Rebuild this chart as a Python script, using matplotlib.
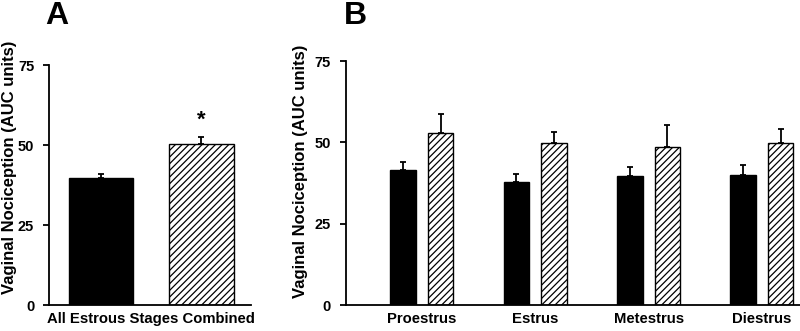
import numpy as np
import matplotlib.pyplot as plt

plt.rcParams['font.family'] = ['Liberation Sans', 'DejaVu Sans']
plt.rcParams['font.weight'] = 'bold'
plt.rcParams['hatch.linewidth'] = 0.9

# panel A
combined_label = ['All Estrous Stages Combined']
combined_black = [39.7]
combined_black_err = [1.3]
combined_hatch = [50.3]
combined_hatch_err = [2.3]

# panel B
stages = ['Proestrus', 'Estrus', 'Metestrus', 'Diestrus']
stage_black = [41.4, 37.9, 39.7, 40.1]
stage_black_err = [2.7, 2.5, 2.7, 2.8]
stage_hatch = [53.0, 49.9, 48.7, 49.7]
stage_hatch_err = [5.8, 3.2, 6.7, 4.3]

yticks = [0, 25, 50, 75]
ylabel = 'Vaginal Nociception (AUC units)'

fig = plt.figure(figsize=(8, 3.31), dpi=100)
axA = fig.add_axes([0.061, 0.0785, 0.2525, 0.725])
axB = fig.add_axes([0.432, 0.0785, 0.568, 0.737])


def style_axis(ax):
    ax.spines['top'].set_visible(False)
    ax.spines['right'].set_visible(False)
    ax.spines['left'].set_linewidth(1.3)
    ax.spines['bottom'].set_linewidth(1.3)
    ax.set_ylim(0, 75)
    ax.set_yticks(yticks)
    ax.tick_params(axis='y', length=4, width=1.3, labelsize=10.5, pad=6.5)
    ax.tick_params(axis='x', length=0, labelsize=10.7, pad=5)
    for lbl in ax.get_yticklabels() + ax.get_xticklabels():
        lbl.set_fontweight('bold')


err_kw = dict(elinewidth=1.3, capsize=2.5, capthick=1.3, ecolor='black')

# panel A
axA.bar([0], combined_black, width=0.64, color='black', edgecolor='black',
        yerr=[[0], combined_black_err], error_kw=err_kw, zorder=2)
axA.bar([1], combined_hatch, width=0.64, color='white', edgecolor='black',
        hatch='/////', linewidth=1.0,
        yerr=[[0], combined_hatch_err], error_kw=err_kw, zorder=2)
axA.set_xlim(-0.517, 1.49)
axA.set_xticks([0.5])
axA.set_xticklabels(combined_label)
axA.text(1, combined_hatch[0] + combined_hatch_err[0] + 5.2, '*',
         ha='center', va='center', fontsize=16, fontweight='bold')
style_axis(axA)
axA.set_ylabel(ylabel, fontsize=12, fontweight='bold')
axA.yaxis.set_label_coords(-0.158, 0.575)
fig.text(0.057, 0.952, 'A', fontsize=23, fontweight='bold', ha='left', va='center')

# panel B
x = np.arange(len(stages))
axB.bar(x - 0.166, stage_black, width=0.225, color='black', edgecolor='black',
        yerr=[np.zeros(len(stages)), stage_black_err], error_kw=err_kw, zorder=2)
axB.bar(x + 0.166, stage_hatch, width=0.225, color='white', edgecolor='black',
        hatch='/////', linewidth=1.0,
        yerr=[np.zeros(len(stages)), stage_hatch_err], error_kw=err_kw, zorder=2)
axB.set_xlim(-0.673, 3.336)
axB.set_xticks(x)
axB.set_xticklabels(stages)
style_axis(axB)
axB.set_ylabel(ylabel, fontsize=12, fontweight='bold')
axB.yaxis.set_label_coords(-0.083, 0.549)
fig.text(0.430, 0.952, 'B', fontsize=23, fontweight='bold', ha='left', va='center')

fig.savefig('out.png', dpi=100)
